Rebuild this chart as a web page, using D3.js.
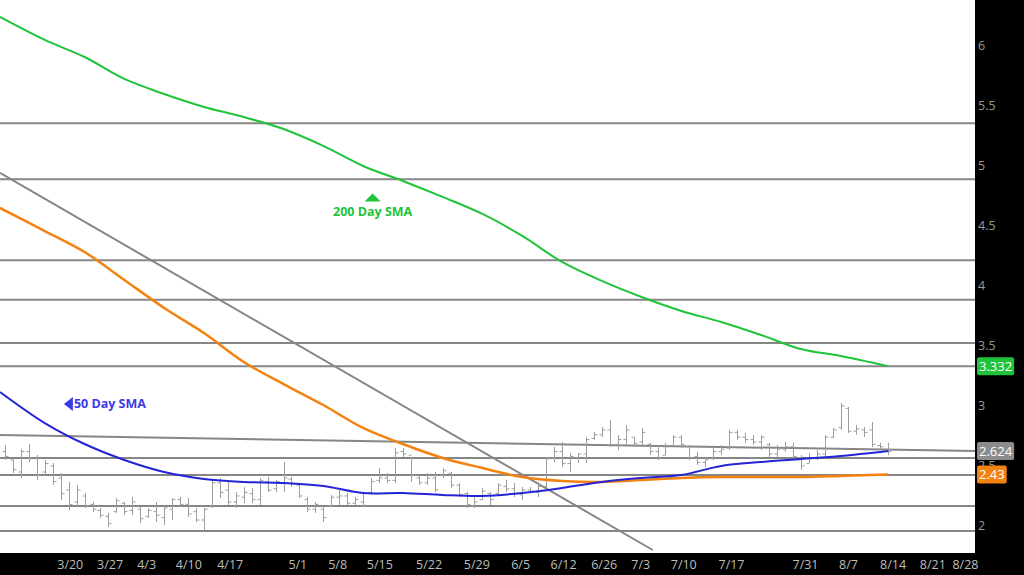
<!DOCTYPE html>
<html>
<head>
<meta charset="utf-8">
<script src="https://cdn.jsdelivr.net/npm/d3@7"></script>
<style>
  html, body { margin: 0; padding: 0; background: #000; }
  svg { display: block; }
</style>
</head>
<body>
<svg id="chart" width="1024" height="575"></svg>
<script>
// daily bars: [open, high, low, close], one per trading day
const bars = [
  [2.62,2.675,2.55,2.58],[2.55,2.567,2.442,2.47],[2.45,2.642,2.40,2.62],[2.62,2.683,2.533,2.56],
  [2.56,2.592,2.383,2.42],[2.45,2.55,2.425,2.52],[2.50,2.525,2.342,2.37],[2.40,2.442,2.217,2.27],
  [2.30,2.367,2.133,2.18],[2.20,2.342,2.158,2.30],[2.25,2.275,2.15,2.17],[2.18,2.20,2.117,2.14],
  [2.13,2.15,2.067,2.09],[2.08,2.108,1.992,2.02],[2.12,2.233,2.108,2.21],[2.19,2.20,2.092,2.12],
  [2.13,2.242,2.092,2.20],[2.14,2.158,2.025,2.06],[2.08,2.15,2.067,2.13],[2.12,2.20,2.033,2.09],
  [2.07,2.175,2.008,2.15],[2.14,2.233,2.05,2.22],[2.22,2.242,2.158,2.18],[2.18,2.233,2.075,2.10],
  [2.12,2.15,2.033,2.05],[2.05,2.15,1.967,2.14],[2.16,2.383,2.15,2.36],[2.36,2.40,2.233,2.28],
  [2.30,2.383,2.175,2.20],[2.20,2.283,2.15,2.25],[2.24,2.325,2.192,2.28],[2.27,2.317,2.192,2.22],
  [2.22,2.40,2.175,2.38],[2.37,2.408,2.283,2.30],[2.31,2.383,2.283,2.37],[2.36,2.533,2.283,2.40],
  [2.39,2.408,2.325,2.35],[2.34,2.358,2.233,2.25],[2.22,2.242,2.117,2.14],[2.14,2.20,2.108,2.18],
  [2.14,2.158,2.033,2.07],[2.17,2.258,2.158,2.24],[2.24,2.30,2.175,2.25],[2.25,2.275,2.175,2.19],
  [2.19,2.242,2.175,2.22],[2.20,2.283,2.158,2.27],[2.28,2.40,2.258,2.37],[2.38,2.483,2.358,2.40],
  [2.40,2.442,2.358,2.38],[2.38,2.65,2.358,2.61],[2.62,2.65,2.575,2.60],[2.59,2.575,2.367,2.42],
  [2.40,2.425,2.342,2.36],[2.36,2.442,2.342,2.40],[2.40,2.45,2.283,2.30],[2.42,2.483,2.40,2.46],
  [2.44,2.45,2.317,2.34],[2.34,2.358,2.242,2.26],[2.27,2.283,2.15,2.18],[2.17,2.258,2.15,2.20],
  [2.22,2.317,2.217,2.29],[2.27,2.283,2.175,2.22],[2.27,2.358,2.258,2.34],[2.33,2.383,2.283,2.31],
  [2.31,2.358,2.242,2.27],[2.26,2.325,2.217,2.30],[2.30,2.325,2.283,2.29],[2.28,2.367,2.242,2.33],
  [2.33,2.575,2.30,2.56],[2.57,2.658,2.533,2.62],[2.62,2.70,2.492,2.52],[2.52,2.608,2.45,2.58],
  [2.57,2.608,2.525,2.60],[2.60,2.742,2.525,2.72],[2.73,2.783,2.717,2.76],[2.76,2.825,2.742,2.80],
  [2.80,2.883,2.658,2.68],[2.68,2.758,2.633,2.72],[2.72,2.842,2.675,2.80],[2.74,2.742,2.658,2.69],
  [2.70,2.817,2.658,2.78],[2.68,2.692,2.592,2.62],[2.62,2.675,2.55,2.57],[2.59,2.692,2.592,2.66],
  [2.67,2.758,2.658,2.74],[2.74,2.758,2.65,2.68],[2.66,2.675,2.55,2.57],[2.58,2.617,2.508,2.53],
  [2.53,2.575,2.492,2.55],[2.56,2.65,2.55,2.62],[2.62,2.675,2.592,2.64],[2.65,2.80,2.633,2.78],
  [2.78,2.80,2.717,2.74],[2.74,2.775,2.692,2.72],[2.72,2.758,2.675,2.70],[2.70,2.758,2.633,2.74],
  [2.68,2.692,2.575,2.60],[2.60,2.675,2.575,2.64],[2.64,2.70,2.617,2.66],[2.66,2.692,2.567,2.58],
  [2.57,2.592,2.467,2.50],[2.52,2.608,2.525,2.56],[2.56,2.633,2.55,2.60],[2.60,2.758,2.567,2.74],
  [2.74,2.817,2.733,2.80],[2.82,3.025,2.80,3.00],[2.98,2.992,2.775,2.79],[2.79,2.842,2.758,2.81],
  [2.80,2.825,2.742,2.78],[2.80,2.867,2.658,2.68],[2.67,2.692,2.633,2.66],[2.64,2.692,2.592,2.62]
];

// moving averages, read every 5th bar (bar index, value)
const smaIdx = [-0.63,5,10,15,20,25,30,35,40,45,50,55,60,65,70,75,80,85,90,95,100,105,111];
const sma200 = [6.242,6.05,5.908,5.725,5.60,5.492,5.408,5.308,5.167,5.0,4.875,4.742,4.60,4.417,4.20,4.042,3.908,3.792,3.70,3.592,3.475,3.417,3.332];
const sma100 = [4.65,4.458,4.283,4.05,3.817,3.608,3.367,3.183,3.008,2.817,2.683,2.567,2.483,2.408,2.375,2.367,2.383,2.40,2.408,2.408,2.408,2.417,2.43];
const sma50  = [3.117,2.858,2.683,2.55,2.45,2.392,2.367,2.358,2.333,2.275,2.275,2.258,2.25,2.275,2.317,2.367,2.40,2.425,2.50,2.533,2.558,2.583,2.625];

// support / resistance levels
const levels = [5.355, 4.89, 4.215, 3.885, 3.525, 3.332, 2.567, 2.425, 2.167, 1.958];
// trend lines: [[bar, value], [bar, value]]
const trendLines = [
  [[-0.63, 4.942], [81.4, 1.80]],
  [[-0.63, 2.758], [121.9, 2.624]]
];

const yTicks = [2, 2.5, 3, 3.5, 4, 4.5, 5, 5.5, 6];
const xTickLabels = ["3/20","3/27","4/3","4/10","4/17","5/1","5/8","5/15","5/22","5/29","6/5","6/12","6/26","7/3","7/10","7/17","7/31","8/7","8/14","8/21","8/28"];
const xTickBars   = [8.2,13.2,17.8,23.1,28.3,36.8,41.8,47.1,53.3,59.3,64.8,70.2,75.3,79.9,85.3,91.3,100.6,106,111.6,116.6,120.7];

const W = 1024, H = 575, plotW = 975, plotH = 553;
const FONT = "'Open Sans', 'Noto Sans', sans-serif";

const svg = d3.select("#chart");
const x = d3.scaleLinear().domain([-0.63, 121.9]).range([0, plotW]);
const y = d3.scaleLinear().domain([1.775, 6.383]).range([plotH, 0]);

svg.append("rect").attr("width", W).attr("height", H).attr("fill", "#000");
svg.append("rect").attr("width", plotW).attr("height", plotH).attr("fill", "#fff");

svg.append("defs").append("clipPath").attr("id", "plotClip")
  .append("rect").attr("width", plotW).attr("height", plotH);

const plot = svg.append("g").attr("clip-path", "url(#plotClip)");

// levels
plot.selectAll(".level").data(levels).join("line")
  .attr("class", "level")
  .attr("x1", 0).attr("x2", plotW)
  .attr("y1", d => y(d)).attr("y2", d => y(d))
  .attr("stroke", "#868686").attr("stroke-width", 2);

plot.selectAll(".trend").data(trendLines).join("line")
  .attr("class", "trend")
  .attr("x1", d => x(d[0][0])).attr("y1", d => y(d[0][1]))
  .attr("x2", d => x(d[1][0])).attr("y2", d => y(d[1][1]))
  .attr("stroke", "#868686").attr("stroke-width", 2);

// price bars
const tick = 3;
const gBars = plot.append("g").attr("stroke", "#9e9e9e").attr("stroke-width", 1);
bars.forEach((b, i) => {
  const cx = Math.round(x(i)) + 0.5;
  gBars.append("line").attr("x1", cx).attr("x2", cx).attr("y1", y(b[1])).attr("y2", y(b[2]));
  gBars.append("line").attr("x1", cx - tick).attr("x2", cx).attr("y1", y(b[0])).attr("y2", y(b[0]));
  gBars.append("line").attr("x1", cx).attr("x2", cx + tick).attr("y1", y(b[3])).attr("y2", y(b[3]));
});

// moving averages
const line = d3.line().x(d => x(d[0])).y(d => y(d[1])).curve(d3.curveCatmullRom.alpha(0.5));
const smaSeries = [
  { vals: sma100, color: "#f4820f", w: 2.5 },
  { vals: sma50,  color: "#2424d6", w: 2 },
  { vals: sma200, color: "#20c43a", w: 2 }
];
smaSeries.forEach(s => {
  plot.append("path")
    .attr("d", line(smaIdx.map((k, i) => [k, s.vals[i]])))
    .attr("fill", "none").attr("stroke", s.color).attr("stroke-width", s.w);
});

// annotations
const a200 = { bar: 46.2, val: 4.62 };
const ax = x(a200.bar), ay = y(a200.val);
svg.append("path")
  .attr("d", `M${ax},${ay - 18}L${ax + 8},${ay - 10}L${ax - 8},${ay - 10}Z`)
  .attr("fill", "#20c43a");
svg.append("text").attr("x", ax).attr("y", ay + 4)
  .attr("text-anchor", "middle").attr("font-family", FONT).attr("font-weight", 700)
  .attr("font-size", "12.5px").attr("fill", "#20c43a").text("200 Day SMA");

const a50 = { bar: 7.4, val: 3.017 };
const bx = x(a50.bar), by = y(a50.val);
svg.append("path")
  .attr("d", `M${bx},${by}L${bx + 9},${by - 7}L${bx + 9},${by + 7}Z`)
  .attr("fill", "#3a3ae6");
svg.append("text").attr("x", bx + 10).attr("y", by + 4.5)
  .attr("font-family", FONT).attr("font-weight", 700)
  .attr("font-size", "12.5px").attr("fill", "#3a3ae6").text("50 Day SMA");

// right axis
svg.append("g").selectAll("text").data(yTicks).join("text")
  .attr("x", plotW + 3).attr("y", d => y(d) + 4.5)
  .attr("font-family", FONT).attr("font-size", "12.5px").attr("fill", "#9a9a9a")
  .text(d => d);

// bottom axis
svg.append("g").selectAll("text").data(xTickLabels).join("text")
  .attr("x", (d, i) => x(xTickBars[i])).attr("y", 569)
  .attr("text-anchor", "middle")
  .attr("font-family", FONT).attr("font-size", "12.5px").attr("fill", "#bdbdbd")
  .text(d => d);

// last value tags
const tags = [
  { val: sma200[sma200.length - 1], text: "3.332", bg: "#1fc23a" },
  { val: trendLines[1][1][1], text: "2.624", bg: "#8c8c8c" },
  { val: sma100[sma100.length - 1], text: "2.43", bg: "#f4820f" }
];
const gTag = svg.append("g");
tags.forEach(t => {
  const ty = y(t.val);
  const txt = gTag.append("text").attr("x", plotW + 4).attr("y", ty + 4.5)
    .attr("font-family", FONT).attr("font-size", "13px").attr("fill", "#fff").text(t.text);
  const bw = txt.node().getComputedTextLength() + 4;
  gTag.insert("rect", "text").attr("x", plotW + 2).attr("y", ty - 9)
    .attr("width", bw).attr("height", 18).attr("rx", 2).attr("fill", t.bg);
});
</script>
</body>
</html>
